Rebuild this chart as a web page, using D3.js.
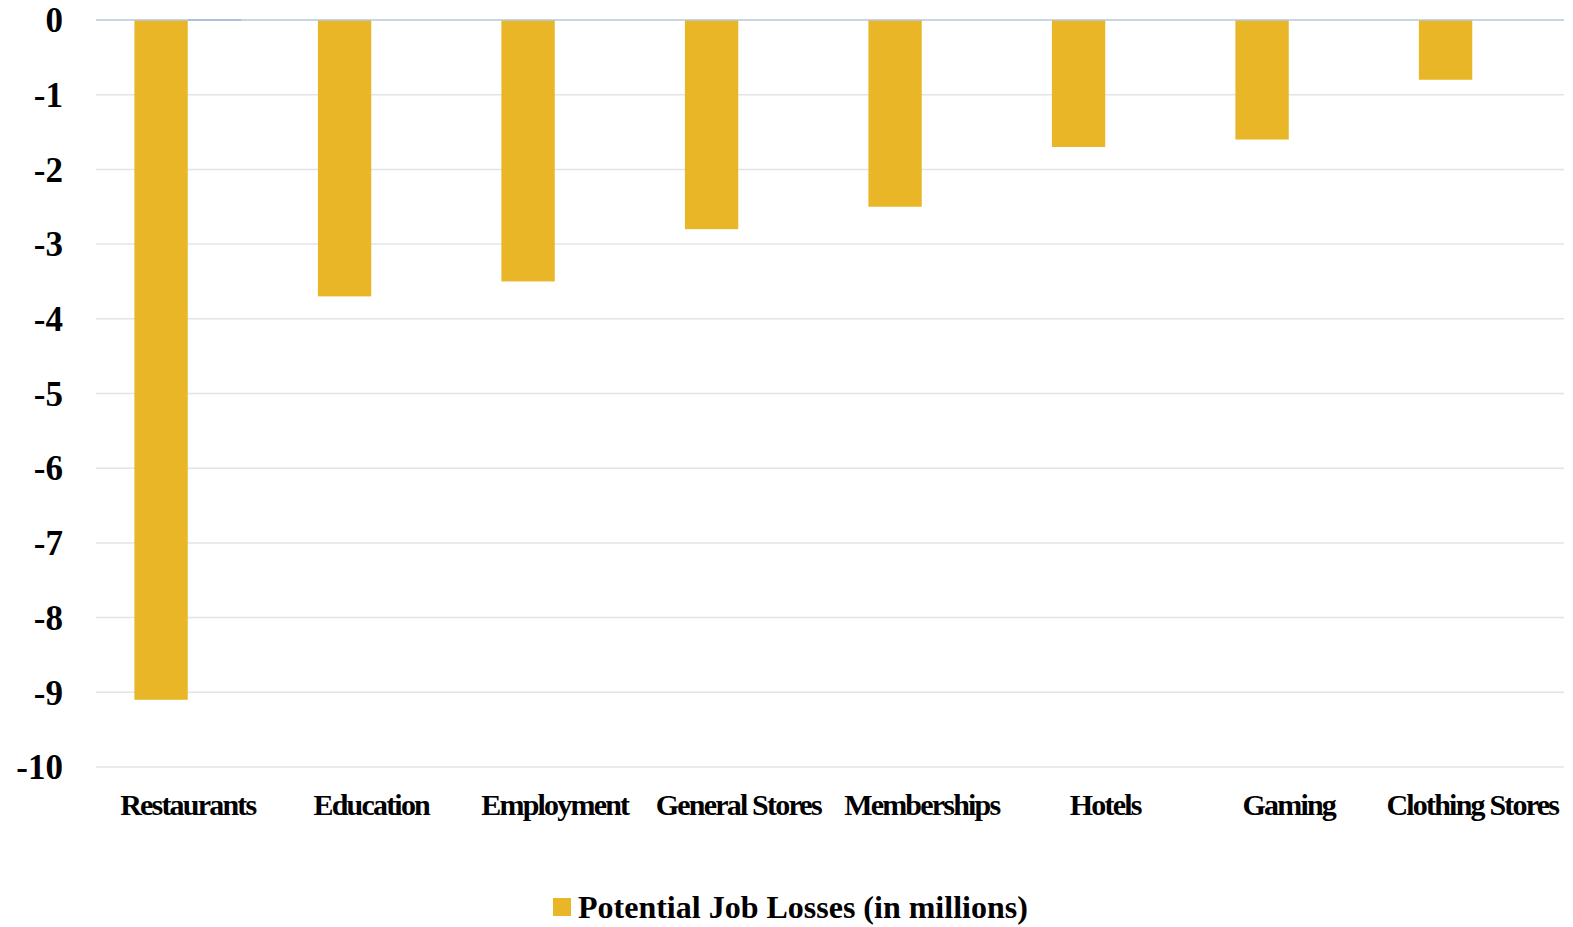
<!DOCTYPE html>
<html>
<head>
<meta charset="utf-8">
<script src="https://cdn.jsdelivr.net/npm/d3@7"></script>
<style>
  body { margin: 0; background: #fff; }
  text { font-family: "Liberation Serif", "Times New Roman", serif; font-weight: bold; fill: #000; }
</style>
</head>
<body>
<div id="chart"></div>
<script>
// data
const categories = ["Restaurants", "Education", "Employment", "General Stores",
                    "Memberships", "Hotels", "Gaming", "Clothing Stores"];
const jobLosses = [-9.1, -3.7, -3.5, -2.8, -2.5, -1.7, -1.6, -0.8];
// second (empty) series that only shows as a sliver on the zero line
const hiddenSeries = [0, null, null, null, null, null, null, null];
const yTicks = [0, -1, -2, -3, -4, -5, -6, -7, -8, -9, -10];
const legendLabel = "Potential Job Losses (in millions)";

const width = 1573, height = 927;
const margin = { top: 20, right: 9, bottom: 160, left: 96 };

const svg = d3.select("#chart").append("svg")
    .attr("width", width)
    .attr("height", height);

const x = d3.scaleBand()
    .domain(categories)
    .range([margin.left, width - margin.right]);

const xSub = d3.scaleBand()
    .domain(["losses", "hidden"])
    .range([0, x.bandwidth()])
    .paddingOuter(0.72);

const y = d3.scaleLinear()
    .domain([0, -10])
    .range([margin.top, height - margin.bottom]);

// gridlines
svg.append("g")
    .selectAll("line")
    .data(yTicks.filter(d => d !== 0))
    .join("line")
    .attr("x1", margin.left)
    .attr("x2", width - margin.right)
    .attr("y1", d => y(d))
    .attr("y2", d => y(d))
    .attr("stroke", "#e1e4ea")
    .attr("stroke-width", 1.5);

// y tick labels
svg.append("g")
    .selectAll("text")
    .data(yTicks)
    .join("text")
    .attr("x", 63)
    .attr("y", d => y(d))
    .attr("dy", "0.35em")
    .attr("text-anchor", "end")
    .attr("font-size", 35)
    .text(d => d);

// bars
const groups = svg.append("g")
    .selectAll("g")
    .data(categories)
    .join("g")
    .attr("transform", d => "translate(" + x(d) + ",0)");

groups.append("rect")
    .attr("x", xSub("losses"))
    .attr("y", y(0))
    .attr("width", xSub.bandwidth())
    .attr("height", (d, i) => y(jobLosses[i]) - y(0))
    .attr("fill", "#e8b627");

// zero line
svg.append("line")
    .attr("x1", margin.left)
    .attr("x2", width - margin.right)
    .attr("y1", y(0))
    .attr("y2", y(0))
    .attr("stroke", "#b3c9de")
    .attr("stroke-width", 1.5);

// hidden series sliver
groups.filter((d, i) => hiddenSeries[i] !== null)
    .append("line")
    .attr("x1", xSub("hidden"))
    .attr("x2", xSub("hidden") + xSub.bandwidth())
    .attr("y1", (d, i) => y(0))
    .attr("y2", (d, i) => y(0))
    .attr("stroke", "#8eaac4")
    .attr("stroke-width", 2);

// category labels
svg.append("g")
    .selectAll("text")
    .data(categories)
    .join("text")
    .attr("x", d => x(d) + x.bandwidth() / 2)
    .attr("y", 815)
    .attr("text-anchor", "middle")
    .attr("font-size", 30)
    .attr("letter-spacing", "-1.8px")
    .text(d => d);

// legend
const legend = svg.append("g");
legend.append("rect")
    .attr("x", 553)
    .attr("y", 898)
    .attr("width", 18)
    .attr("height", 18)
    .attr("fill", "#e8b627");
legend.append("text")
    .attr("x", 578)
    .attr("y", 918)
    .attr("font-size", 32)
    .text(legendLabel);
</script>
</body>
</html>
